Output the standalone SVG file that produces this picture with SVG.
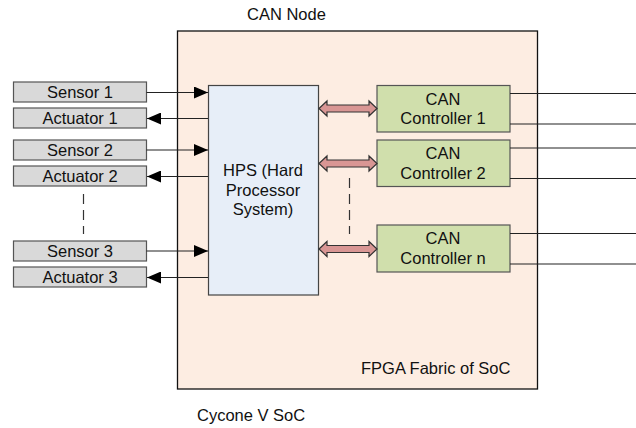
<svg xmlns="http://www.w3.org/2000/svg" xmlns:xlink="http://www.w3.org/1999/xlink" width="636" height="428" viewBox="0 0 636 428">
<style>
text{font-family:"Liberation Sans",Arial,sans-serif;font-size:16.5px;fill:#111;}
.io{fill:#d9d9d9;stroke:#555;stroke-width:1.2;}
.can{fill:#d0dfac;stroke:#555;stroke-width:1.2;}
.ln{stroke:#222;stroke-width:1.2;fill:none;}
.dash{stroke:#333;stroke-width:1.2;stroke-dasharray:10,6;fill:none;}
.fat{fill:#d99694;stroke:#333;stroke-width:1.2;}
.c{text-anchor:middle;}
</style>
<defs>
<marker id="ah" markerWidth="14" markerHeight="12" refX="14" refY="6" orient="auto" markerUnits="userSpaceOnUse">
<path d="M0,0 L14,6 L0,12 Z" fill="#000"/>
</marker>
<path id="fa" d="M0,0 L8,-7.5 L8,-3.5 L50,-3.5 L50,-7.5 L58,0 L50,7.5 L50,3.5 L8,3.5 L8,7.5 Z"/>
</defs>
<text x="247" y="20">CAN Node</text>
<g id="fpga">
<rect x="177.5" y="31" width="360" height="358" fill="#fdede2" stroke="#111" stroke-width="1.3"/>
<text x="361" y="374">FPGA Fabric of SoC</text>
</g>
<text x="197" y="421">Cycone V SoC</text>
<g id="hps">
<rect x="208.5" y="85.5" width="110" height="209.5" fill="#e7eef8" stroke="#444" stroke-width="1.2"/>
<text class="c" x="263" y="176">HPS (Hard</text>
<text class="c" x="263" y="196">Processor</text>
<text class="c" x="263" y="215">System)</text>
</g>
<g id="sensor1"><rect class="io" x="13.5" y="82" width="133" height="20"/><text class="c" x="80" y="97.6">Sensor 1</text></g>
<g id="actuator1"><rect class="io" x="13.5" y="108" width="133" height="20"/><text class="c" x="80" y="123.6">Actuator 1</text></g>
<g id="sensor2"><rect class="io" x="13.5" y="140" width="133" height="20"/><text class="c" x="80" y="155.6">Sensor 2</text></g>
<g id="actuator2"><rect class="io" x="13.5" y="166" width="133" height="20"/><text class="c" x="80" y="181.6">Actuator 2</text></g>
<g id="sensor3"><rect class="io" x="13.5" y="241" width="133" height="20"/><text class="c" x="80" y="256.6">Sensor 3</text></g>
<g id="actuator3"><rect class="io" x="13.5" y="267" width="133" height="20"/><text class="c" x="80" y="282.6">Actuator 3</text></g>
<g id="can1"><rect class="can" x="377" y="85.5" width="133" height="46.5"/><text class="c" x="443" y="104.5">CAN</text><text class="c" x="443" y="124">Controller 1</text></g>
<g id="can2"><rect class="can" x="377" y="140" width="133" height="46.5"/><text class="c" x="443" y="159">CAN</text><text class="c" x="443" y="178.5">Controller 2</text></g>
<g id="cann"><rect class="can" x="377" y="225" width="133" height="47"/><text class="c" x="443" y="244">CAN</text><text class="c" x="443" y="263.5">Controller n</text></g>
<g id="connectors">
<line class="ln" x1="146.5" y1="92.5" x2="208" y2="92.5" marker-end="url(#ah)"/>
<line class="ln" x1="208" y1="118.5" x2="147" y2="118.5" marker-end="url(#ah)"/>
<line class="ln" x1="146.5" y1="150" x2="208" y2="150" marker-end="url(#ah)"/>
<line class="ln" x1="208" y1="176.5" x2="147" y2="176.5" marker-end="url(#ah)"/>
<line class="ln" x1="146.5" y1="251" x2="208" y2="251" marker-end="url(#ah)"/>
<line class="ln" x1="208" y1="277.5" x2="147" y2="277.5" marker-end="url(#ah)"/>
<line class="dash" x1="83.5" y1="194" x2="83.5" y2="234"/>
<line class="dash" x1="349.5" y1="178" x2="349.5" y2="234"/>
<use xlink:href="#fa" class="fat" transform="translate(319,108.5)"/>
<use xlink:href="#fa" class="fat" transform="translate(319,163.5)"/>
<use xlink:href="#fa" class="fat" transform="translate(319,249)"/>
<line class="ln" x1="510" y1="93.5" x2="636" y2="93.5"/>
<line class="ln" x1="510" y1="124" x2="636" y2="124"/>
<line class="ln" x1="510" y1="148" x2="636" y2="148"/>
<line class="ln" x1="510" y1="178.5" x2="636" y2="178.5"/>
<line class="ln" x1="510" y1="233.5" x2="636" y2="233.5"/>
<line class="ln" x1="510" y1="264" x2="636" y2="264"/>
</g>
</svg>
